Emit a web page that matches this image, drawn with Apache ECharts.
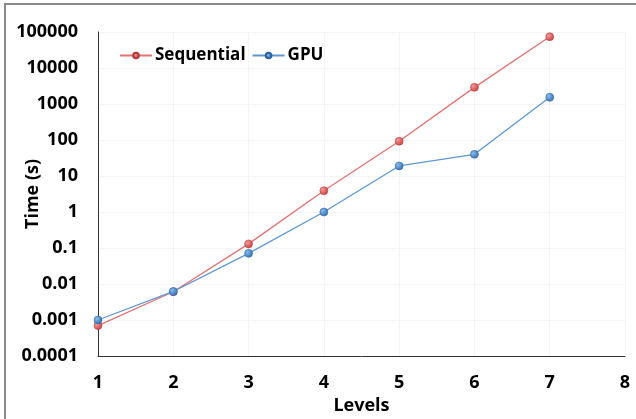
<!DOCTYPE html>
<html>
<head>
<meta charset="utf-8">
<script src="https://cdn.jsdelivr.net/npm/echarts@6/dist/echarts.min.js"></script>
<style>
  html, body { margin: 0; padding: 0; background: #fff; overflow: hidden; }
  #frame {
    position: absolute; left: 4px; top: 3px; width: 640px; height: 414px;
    border-left: 2px solid #8a8a8a; border-top: 2px solid #8a8a8a;
    border-bottom: 1px solid #e4e4e4;
  }
  #chart { position: absolute; left: 0; top: 0; width: 636px; height: 419px; }
</style>
</head>
<body>
<div id="frame"></div>
<div id="chart"></div>
<script>
const levels = [1, 2, 3, 4, 5, 6, 7];
const sequentialTimes = [0.0007, 0.0061, 0.13, 3.9, 92, 2900, 74000];
const gpuTimes = [0.001, 0.0062, 0.071, 1.0, 19, 40, 1540];

const font = 'Open Sans';
const labelStyle = { fontFamily: font, fontWeight: 'bold', fontSize: 18, color: '#000' };

const chart = echarts.init(document.getElementById('chart'));

function markerColor(c1, c2) {
  return new echarts.graphic.RadialGradient(0.35, 0.35, 0.7, [
    { offset: 0, color: c1 },
    { offset: 1, color: c2 },
  ]);
}

const option = {
  animation: false,
  textStyle: { fontFamily: font },
  legend: {
    left: 114,
    top: 42,
    itemWidth: 32,
    itemHeight: 7,
    itemGap: 6,
    textStyle: { ...labelStyle, fontSize: 17, padding: [0, 0, 0, -2] },
    data: ['Sequential', 'GPU'],
  },
  grid: { left: 98, right: 11, top: 32, bottom: 63, outerBoundsMode: 'none' },
  xAxis: {
    type: 'value',
    min: 1,
    max: 8,
    interval: 1,
    name: 'Levels',
    nameLocation: 'middle',
    nameGap: 41,
    nameMoveOverlap: false,
    nameTextStyle: labelStyle,
    axisLine: { lineStyle: { color: '#333', width: 1 } },
    axisTick: { show: false },
    axisLabel: { ...labelStyle, margin: 18 },
    splitLine: { show: true, lineStyle: { color: '#f4f4f4' } },
  },
  yAxis: {
    type: 'log',
    logBase: 10,
    min: 0.0001,
    max: 100000,
    name: 'Time (s)',
    nameLocation: 'middle',
    nameGap: 56,
    nameMoveOverlap: false,
    nameTextStyle: labelStyle,
    axisLine: { show: true, lineStyle: { color: '#333', width: 1 } },
    axisTick: { show: false },
    axisLabel: {
      ...labelStyle, margin: 20,
      formatter: (v) => String(Number(v.toPrecision(1))),
    },
    splitLine: { show: true, lineStyle: { color: '#f4f4f4' } },
  },
  series: [
    {
      name: 'Sequential',
      type: 'line',
      data: levels.map((x, i) => [x, sequentialTimes[i]]),
      symbol: 'circle',
      symbolSize: 8,
      lineStyle: { color: '#e07272', width: 1.3 },
      itemStyle: { color: markerColor('#f29a9a', '#c94040'), borderColor: '#b03a3a', borderWidth: 0.5 },
      z: 2,
    },
    {
      name: 'GPU',
      type: 'line',
      data: levels.map((x, i) => [x, gpuTimes[i]]),
      symbol: 'circle',
      symbolSize: 8,
      lineStyle: { color: '#5d97d2', width: 1.3 },
      itemStyle: { color: markerColor('#8cbbe8', '#2f6fb3'), borderColor: '#2a62a0', borderWidth: 0.5 },
      z: 3,
    },
  ],
};

chart.setOption(option);
</script>
</body>
</html>
